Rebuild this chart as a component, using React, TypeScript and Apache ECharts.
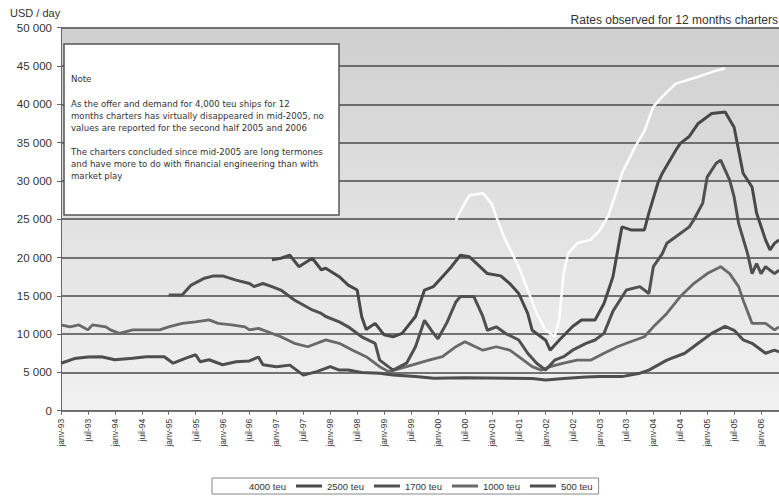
import React, { useEffect, useRef } from "react";
import * as echarts from "echarts";

// month index 0 = janv-93
const xTickLabels = [
  "janv-93", "juil-93", "janv-94", "juil-94", "janv-95", "juil-95", "janv-96", "juil-96",
  "janv-97", "juil-97", "janv-98", "juil-98", "janv-99", "juil-99", "janv-00", "juil-00",
  "janv-01", "juil-01", "janv-02", "juil-02", "janv-03", "juil-03", "janv-04", "juil-04",
  "janv-05", "juil-05", "janv-06",
];
const yTickLabels = ["0", "5 000", "10 000", "15 000", "20 000", "25 000", "30 000", "35 000", "40 000", "45 000", "50 000"];
const seriesNames = ["4000 teu", "2500 teu", "1700 teu", "1000 teu", "500 teu"];

const teu4000 = [
  [88, 24900], [90, 27100], [91, 28100], [94, 28400], [96, 27000], [97, 25300], [99, 22300],
  [102, 18800], [104, 15750], [106, 12700], [108, 10500], [110, 9700], [111, 11800], [112, 17900],
  [113, 20500], [115, 21850], [118, 22300], [120, 23500], [122, 25500], [124, 29000], [125, 31000],
  [128, 34500], [130, 36500], [132, 39700], [134, 41000], [137, 42700], [142, 43600], [146, 44400],
  [148, 44700],
];
const teu2500 = [
  [47, 19700], [49, 19900], [51, 20300], [53, 18800], [56, 19900], [58, 18400], [59, 18600],
  [62, 17500], [64, 16400], [66, 15750], [67, 12300], [68, 10600], [70, 11400], [72, 9900],
  [74, 9650], [76, 10100], [79, 12300], [81, 15750], [83, 16200], [85, 17500], [87, 18800],
  [89, 20300], [91, 20100], [93, 19000], [95, 17900], [98, 17600], [100, 16600], [102, 15300],
  [104, 12700], [105, 10500], [108, 9200], [109, 7900], [111, 9200], [114, 11000], [116, 11850],
  [119, 11850], [121, 14000], [123, 17500], [125, 24000], [127, 23600], [130, 23600], [131, 25800],
  [133, 29700], [134, 31000], [137, 34000], [138, 34900], [140, 35800], [142, 37500], [145, 38800],
  [148, 39000], [150, 37000], [151, 34000], [152, 31000], [154, 29200], [155, 25800], [157, 22300],
  [158, 21000], [159, 21850], [160, 22300],
];
const teu1700 = [
  [24, 15100], [27, 15100], [29, 16400], [32, 17300], [34, 17600], [36, 17600], [39, 17050],
  [42, 16600], [43, 16200], [45, 16600], [47, 16200], [49, 15750], [52, 14450], [56, 13150],
  [58, 12700], [59, 12300], [62, 11600], [64, 10950], [67, 9650], [70, 8800], [71, 6600],
  [74, 5300], [77, 6200], [79, 8350], [81, 11800], [83, 10100], [84, 9400], [86, 11500],
  [88, 14200], [89, 14900], [92, 14900], [94, 12300], [95, 10500], [97, 10950], [99, 10100],
  [102, 9230], [104, 7500], [106, 6200], [108, 5300], [110, 6600], [112, 7050], [114, 7900],
  [117, 8800], [119, 9230], [121, 10100], [123, 13000], [126, 15750], [129, 16200], [131, 15300],
  [132, 18800], [134, 20500], [135, 21850], [137, 22700], [140, 24000], [141, 24900], [143, 27100],
  [144, 30500], [146, 32300], [147, 32700], [148, 31400], [149, 30100], [150, 27900], [151, 24450],
  [153, 20500], [154, 17900], [155, 19200], [156, 17900], [157, 18800], [159, 17900], [160, 18350],
];
const teu1000 = [
  [0, 11200], [2, 10950], [4, 11200], [6, 10550], [7, 11200], [10, 10950], [11, 10550],
  [13, 10100], [16, 10550], [19, 10550], [22, 10550], [24, 10950], [27, 11400], [30, 11600],
  [33, 11850], [35, 11400], [38, 11200], [41, 10950], [42, 10550], [44, 10750], [49, 9650],
  [52, 8800], [55, 8350], [59, 9250], [62, 8800], [65, 7900], [68, 7050], [71, 5750], [73, 5100],
  [77, 5750], [82, 6600], [85, 7050], [88, 8350], [90, 9000], [94, 7900], [97, 8350], [100, 7900],
  [102, 7050], [105, 5750], [107, 5300], [109, 5750], [112, 6200], [115, 6600], [118, 6600],
  [121, 7500], [124, 8350], [126, 8800], [130, 9650], [132, 10950], [135, 12700], [138, 14900],
  [141, 16600], [144, 17900], [147, 18800], [149, 17900], [151, 16200], [152, 14450], [154, 11400],
  [155, 11400], [157, 11400], [159, 10550], [160, 10950],
];
const teu500 = [
  [0, 6200], [3, 6800], [6, 7000], [9, 7050], [12, 6650], [16, 6850], [19, 7050], [23, 7050],
  [25, 6200], [28, 6900], [30, 7300], [31, 6400], [33, 6650], [36, 6000], [39, 6400], [42, 6500],
  [44, 7000], [45, 6000], [48, 5750], [51, 5950], [54, 4650], [57, 5100], [60, 5750], [62, 5300],
  [64, 5300], [67, 5000], [71, 4900], [74, 4650], [79, 4450], [83, 4250], [90, 4300], [100, 4250],
  [105, 4200], [108, 4000], [112, 4200], [117, 4400], [120, 4450], [125, 4450], [129, 4900],
  [131, 5300], [135, 6600], [139, 7500], [142, 8800], [145, 10100], [148, 11000], [150, 10500],
  [152, 9250], [154, 8800], [157, 7500], [159, 7900], [160, 7700],
];

const noteLines = [
  "Note",
  "As the offer and demand for 4,000 teu ships for 12",
  "months charters has virtually disappeared in mid-2005, no",
  "values are reported for the second half 2005 and 2006",
  "The charters concluded since mid-2005 are long termones",
  "and have more to do with financial engineering than with",
  "market play",
];

const FONT = "'Liberation Sans', Arial, sans-serif";

export default function App() {
  const ref = useRef<HTMLDivElement>(null);
  useEffect(() => {
    if (!ref.current) return;
    const chart = echarts.init(ref.current, undefined, { renderer: "svg" });
    const noteY = [79, 104, 116, 128, 152, 164, 176];
    const lineSeries = (name: string, data: number[][], color: string, width: number) => ({
      name,
      type: "line",
      data,
      symbol: "none",
      lineStyle: { color, width },
      itemStyle: { color },
    });
    chart.setOption({
      animation: false,
      backgroundColor: "#ffffff",
      textStyle: { fontFamily: FONT },
      grid: {
        left: 61,
        right: 0,
        top: 27.7,
        bottom: 86.3,
        show: true,
        borderWidth: 0,
        backgroundColor: new echarts.graphic.LinearGradient(0, 0, 0, 1, [
          { offset: 0, color: "#cfcfcf" },
          { offset: 0.45, color: "#e0e0e0" },
          { offset: 1, color: "#f1f1f1" },
        ]),
      },
      xAxis: {
        type: "value",
        min: 0,
        max: 160,
        interval: 6,
        axisLine: { show: true, lineStyle: { color: "#666", width: 1 } },
        axisTick: { show: true, length: 4, lineStyle: { color: "#666" } },
        splitLine: { show: false },
        axisLabel: {
          rotate: 90,
          margin: 8,
          fontSize: 8.5,
          color: "#333",
          fontFamily: FONT,
          showMaxLabel: false,
          formatter: (v: number) => (v % 6 === 0 ? xTickLabels[v / 6] ?? "" : ""),
        },
      },
      yAxis: {
        type: "value",
        min: 0,
        max: 50000,
        interval: 5000,
        axisLine: { show: true, lineStyle: { color: "#666", width: 1 } },
        axisTick: { show: true, length: 4, lineStyle: { color: "#666" } },
        splitLine: { show: true, lineStyle: { color: "#4a4a4a", width: 1.5 } },
        axisLabel: {
          margin: 9,
          fontSize: 11.5,
          color: "#333",
          fontFamily: FONT,
          formatter: (v: number) => yTickLabels[Math.round(v / 5000)] ?? "",
        },
      },
      legend: {
        data: seriesNames,
        left: 212,
        top: 478,
        orient: "horizontal",
        padding: [3, 6],
        icon: "rect",
        itemWidth: 26,
        itemHeight: 3,
        itemGap: 10,
        backgroundColor: "#ffffff",
        borderColor: "#888",
        borderWidth: 1,
        borderRadius: 0,
        textStyle: { fontSize: 9.5, color: "#333", fontFamily: FONT },
      },
      graphic: [
        {
          type: "rect",
          shape: { x: 64, y: 44, width: 275, height: 171 },
          style: { fill: "#ffffff", stroke: "#555", lineWidth: 1.5 },
          z: 10,
        },
        ...noteLines.map((t, i) => ({
          type: "text",
          x: 71,
          y: noteY[i],
          style: {
            text: t,
            fill: "#333",
            font: "8.6px 'DejaVu Sans', sans-serif",
            textVerticalAlign: "middle",
          },
          z: 11,
        })),
        {
          type: "text",
          x: 10,
          y: 13,
          style: { text: "USD / day", fill: "#333", font: "11px " + FONT, textVerticalAlign: "middle" },
        },
        {
          type: "text",
          x: 778,
          y: 20,
          style: {
            text: "Rates observed for 12 months charters",
            fill: "#333",
            font: "12px " + FONT,
            textAlign: "right",
            textVerticalAlign: "middle",
          },
        },
      ],
      series: [
        lineSeries(seriesNames[4], teu500, "#4e4e4e", 3),
        lineSeries(seriesNames[3], teu1000, "#696969", 2.8),
        lineSeries(seriesNames[2], teu1700, "#505050", 3),
        lineSeries(seriesNames[1], teu2500, "#484848", 3),
        lineSeries(seriesNames[0], teu4000, "#ffffff", 2.5),
      ],
    });
    return () => chart.dispose();
  }, []);
  return (
    <div
      ref={ref}
      style={{ position: "fixed", left: 0, top: 0, width: 779, height: 497, background: "#fff" }}
    />
  );
}
